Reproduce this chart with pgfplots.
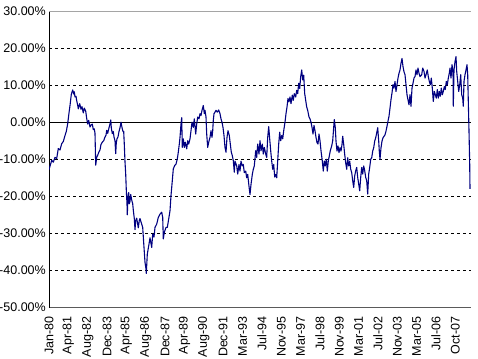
\documentclass[border=0pt]{standalone}
\usepackage{fontspec}
\setmainfont{Liberation Sans}
\usepackage{pgfplots}
\pgfplotsset{compat=1.18}
\definecolor{navyline}{RGB}{0,0,128}
\definecolor{axisgray}{RGB}{90,90,90}
\definecolor{topgray}{RGB}{165,165,165}
\begin{document}
\begin{tikzpicture}[font=\fontsize{12.5bp}{14bp}\selectfont]
\begin{axis}[
  at={(0,0)}, anchor=south west, scale only axis,
  width=422bp, height=296.5bp,
  xmin=0, xmax=422, ymin=-50, ymax=30,
  axis x line*=bottom, axis y line*=left,
  x axis line style={draw=axisgray, line width=1bp, -},
  y axis line style={draw=black, line width=1bp, -},
  major tick length=0pt,
  tick label style={font=\fontsize{12.5bp}{14bp}\selectfont},
  ytick={-50,-40,-30,-20,-10,10,20,30},
  yticklabels={-50.00\%,-40.00\%,-30.00\%,-20.00\%,-10.00\%,10.00\%,20.00\%,30.00\%},
  extra y ticks={0}, extra y tick labels={0.00\%},
  extra y tick style={major grid style={solid, black, line width=1bp}},
  ymajorgrids,
  major grid style={black, line width=0.9bp, dash pattern=on 3bp off 3bp},
  yticklabel style={anchor=east, inner sep=0pt, xshift=-3bp},
  xtick={0,19.35,38.7,58.05,77.4,96.75,116.1,135.45,154.8,174.15,193.5,212.85,232.2,251.55,270.9,290.25,309.6,328.95,348.3,367.65,387,406.35},
  xticklabels={Jan-80,Apr-81,Aug-82,Dec-83,Apr-85,Aug-86,Dec-87,Apr-89,Aug-90,Dec-91,Mar-93,Jul-94,Nov-95,Mar-97,Jul-98,Nov-99,Mar-01,Jul-02,Nov-03,Mar-05,Jul-06,Oct-07},
  xticklabel style={rotate=90, anchor=east, inner xsep=0pt, inner ysep=0pt, xshift=-9bp},
]
\addplot[navyline, line width=1.1bp, line join=round] coordinates {
(0,-12.8) (2.7,-10.3) (4.3,-10.8) (6,-9.5) (7.7,-9.8) (9.3,-7.1) (11,-7.5) (12.7,-5.8) (14.3,-5.2) (16,-3.6) (17.3,-2.5) (18.7,-0.4) (20,2.5) (21,4.5) (22.3,7.5) (23.7,8.7) (24.7,7.6) (25.3,8.2) (26,6.8) (27,7.0) (27.7,5.8) (28.7,4.6) (29.3,3.6) (30.7,5.0) (32,3.5) (33,4.2) (34.3,2.5) (35.3,3.8) (36.7,3.0) (37.7,1.0) (38.7,-0.5) (39.7,0.5) (41,-1.3) (42,-0.8) (43.3,-0.5) (44.3,-2.0) (45.3,-1.8) (46,-3) (46.7,-11.6) (47.7,-9.5) (48.7,-8.9) (50,-8.0) (51,-7.5) (52,-6.0) (53.3,-5.4) (54.7,-5.0) (56,-4.0) (57,-3.5) (57.7,-2.2) (58.7,-3.0) (60,-1.5) (61,-0.5) (61.7,0.6) (62.3,-1.5) (63.3,-3.1) (64.3,-2.5) (65,-4) (66,-5) (66.7,-8.5) (67.3,-5.5) (68,-4.5) (69,-4.0) (70,-2.5) (71,-1.5) (72,0) (72.7,-1.0) (73.3,-1.8) (74,-2.5) (74.7,-2.5) (75.3,-6) (76,-10.7) (76.7,-14) (77.3,-18.3) (78,-22) (78.3,-25) (79,-20) (79.7,-19) (80.3,-22) (81,-21.4) (81.7,-19.5) (82.7,-21) (83.7,-22) (84.3,-23.7) (85.3,-26) (86,-29) (86.7,-26.5) (87.7,-25.9) (88.7,-27.5) (89.3,-28.5) (90.3,-26.5)
(91,-26) (93.7,-28.4) (95,-33.8) (96,-37.8) (97,-39.6) (97.3,-40.8) (98.3,-35.6) (100,-32.9) (101,-31.2) (102.7,-33.8) (103.7,-30.2) (105,-31.0) (106,-28.4) (107.7,-27.5) (109.3,-25.7) (111,-24.8) (112.7,-24.3) (113.7,-25.7) (114.3,-31.5) (115.3,-29.7) (117,-28.4) (118.3,-28.4) (119.7,-26.1) (121,-23.9) (122,-19.8) (123,-16.7) (124.3,-12.6) (125.7,-11.7) (127,-11.3) (128.3,-9.9) (129.3,-8.1) (130.3,-5.9) (131,-4.1) (132,-0.5) (132.7,1.2) (133.3,-6.8) (134.3,-4.5) (135.3,-6.8) (136.3,-5.4) (137.7,-7.2) (138.7,-5.0) (139.7,-5.9) (141,-4.5) (142,-2.3) (143,0) (144.3,-1.4) (145.3,0.9) (146.7,-3.2) (147.7,-0.5) (148.7,1.4) (150,0.9) (151,2.3) (152,1.8) (153,3.2) (154.3,4.5) (155.3,2.3) (156,3.2) (157,1.4) (157.7,-3.2) (158.7,-6.8) (159.7,-5.4) (161,-4.1) (162,-2.3) (163,-4.1) (163.7,-2.3) (164.3,0.5) (165,2.3) (166,2.7) (167,3.2) (168.3,2.7) (169.7,3.3) (171,2.3) (172,0.9) (173,0) (174,-1.4) (175,-3.6) (176,-6.8) (177,-8.1) (178,-4.1) (179,-2.3) (180.3,-3.6) (181.3,-5.9) (182.3,-8.1) (183.3,-9.0) (184.3,-10.4) (185.3,-13.5)
(186,-10.5) (187.7,-11.8) (188.7,-14) (190,-11.4) (191,-13.2) (192,-10.5) (193.3,-11.8) (194.3,-11.4) (195.3,-13.6) (196.7,-13.2) (197.7,-15) (198.7,-14.1) (200,-17.3) (201,-19.5) (202,-16.8) (203.3,-14.1) (204.3,-12.7) (205.3,-11.8) (206.7,-7.7) (207.7,-9.5) (208.7,-5.9) (210,-8.6) (211,-5) (212,-7.7) (213.3,-5.9) (214.3,-8.6) (215.3,-6.8) (216.7,-8.6) (217.7,-9.5) (218.7,-4.1) (219.7,-1.2) (220.7,-4.5) (221.7,-7.7) (222.7,-10.5) (223.7,-12.7) (224.7,-11.4) (225.7,-14.8) (226.7,-14.1) (227.7,-15) (228.7,-10.5) (229.7,-5.9) (230.7,-2.7) (231.7,-5) (232.7,-3.6) (233.7,-4.5) (234.7,-2.3) (236,0) (237,2.3) (238,4.1) (239,6.4) (240,5.5) (241,6.8) (242,5) (243.3,7.3) (244.3,5.9) (245.3,7.7) (246.7,6.8) (247.7,8.6) (248.7,7.7) (249.7,10.5) (250.7,9.1) (251.7,12.3) (252.7,14.1) (253.7,11.4) (254.7,12.7) (255.7,7.7) (256.7,5.9) (257.7,4.1) (258.7,3.2) (260,1.4) (261,0.9) (262,0) (263,-1.4) (264,-3.2) (265,-0.9) (266,-2.3) (267,-4.1) (268,-5.5) (269,-5.9) (270,-3.2) (271,-5) (272,-7.7) (273.3,-10.5) (274.3,-13.2) (275.3,-10.5) (276.3,-11.8) (277.3,-10) (278.3,-13.2) (279.3,-10.5) (280.3,-9.1) (281.3,-7.7) (282.7,-6.4) (283.7,-5) (284.7,-1.4)
(285.3,0.7) (286.3,-1.5) (287,-5.1) (288,-7.8) (289,-6.4) (290,-8.2) (291,-6.9) (292,-7.8) (293,-6.0) (293.7,-3.8) (294.7,-6.0) (295.7,-8.7) (296.7,-11) (297.7,-12.7) (298.7,-9.6) (299.7,-11.8) (300.7,-10.5) (301.7,-12.7) (302.7,-13.6) (303.7,-15.8) (304.7,-17.6) (305.7,-14.5) (306.7,-13.1) (307.7,-12.2) (308.7,-14.9) (309.7,-16.7) (310.7,-18.5) (311.7,-14.9) (312.7,-12.2) (313.7,-14.0) (314.7,-11.8) (315.7,-13.1) (316.7,-14.9) (317.7,-15.8) (318.7,-19.4) (319.7,-14.0) (320.7,-12.2) (321.7,-10) (322.7,-9.6) (323.7,-7.8) (324.7,-6.9) (325.7,-5.1) (326.7,-4.2) (327.7,-2.9) (328.7,-1.5) (329.7,-5.1) (330.3,-7.8) (331,-10) (332,-6.9) (333,-5.1) (334,-4.2) (335,-3.8) (336,-3.4) (337,-2.4) (338,-1.1) (339,0.3) (340,1.6) (341,3.8) (342,6.1) (343,7.9) (344,10.1) (345,9.2) (346,11) (347,8.3) (348,10.1) (349,11.9) (350,13.2) (351,14.1) (352,15.9) (353,17.2) (354,15.0) (355,13.6) (356,12.8) (357,10.1) (358,7.4) (359,6.0) (360,4.7) (361,7.4) (362,4.3) (363,9.2) (364,10.5) (365,11.9) (366,12.3) (367,14.1) (368,12.8) (369,14.6) (370,13.2) (371,12.3)
(372.7,12.8) (373.7,14.6) (375,13.7) (376,11.9) (377,12.8) (378.3,14.1) (379.3,12.3) (380.3,11) (381.3,10.1) (382.3,11.9) (383.3,9.2) (384.3,5.6) (385.3,8.3) (386.3,7.4) (387.3,6.5) (388.3,8.8) (389.3,6.5) (390.3,8.3) (391.3,7.0) (392.3,9.2) (393.3,7.4) (394.3,8.3) (395.3,9.6) (396.3,8.8) (397.3,11) (398.3,10.1) (399.3,11.9) (400.3,13.2) (401,14.6) (402,11.9) (403,15.5) (404,13.7) (404.3,4.3) (405,14.1) (406,16.3) (407,17.7) (407.7,13.7) (408.7,11) (409.7,8.3) (410.7,10.1) (411.7,12.8) (412.7,7.4) (413.7,6.5) (414.3,4.3) (415,11) (416,12.8) (417,14.1) (418,15.5) (418.7,12.8) (419.3,5.6) (420,-2.4) (420.7,-11.3) (421,-18)
};
\draw[topgray, line width=1.5bp] (rel axis cs:0,1) -- (rel axis cs:1,1);
\end{axis}
\pgfresetboundingbox
\useasboundingbox (-49bp,-51.5bp) rectangle (429bp,307.5bp);
\end{tikzpicture}
\end{document}
